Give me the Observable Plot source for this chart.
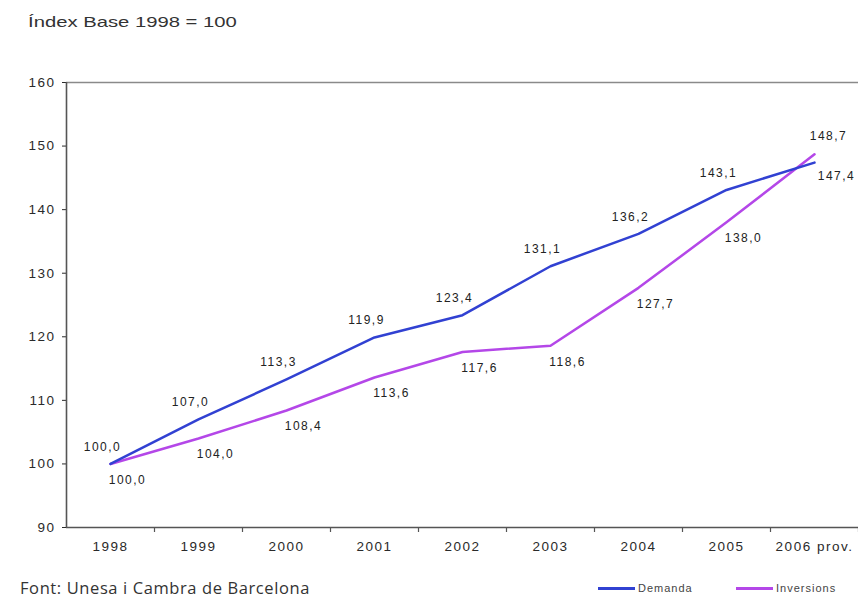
<!DOCTYPE html>
<html>
<head>
<meta charset="utf-8">
<script src="https://cdn.jsdelivr.net/npm/d3@7"></script>
<script src="https://cdn.jsdelivr.net/npm/@observablehq/plot@0.6"></script>
<style>
  body { margin: 0; background: #fff; }
  #wrap { position: relative; width: 858px; height: 598px; overflow: hidden; background: #fff; }
  #chart { position: absolute; left: 0; top: 0; }
  #title { position: absolute; left: 28px; top: 13px; font: 15px "Liberation Sans", Arial, sans-serif; color: #333; white-space: nowrap; transform: scaleX(1.35); transform-origin: 0 0; }
  #caption { position: absolute; left: 20px; top: 576px; font: 16.5px "Open Sans", sans-serif; letter-spacing: 0.6px; color: #333; white-space: nowrap; }
  .legitem { position: absolute; top: 582px; font: 11px "Liberation Sans", Arial, sans-serif; color: #444; white-space: nowrap; letter-spacing: 1px; display: flex; align-items: center; }
  .legitem span.sw { display: inline-block; width: 37px; height: 3px; margin-right: 3px; }
</style>
</head>
<body>
<div id="wrap">
  <div id="chart"></div>
  <div id="title">Índex Base 1998 = 100</div>
  <div id="legend"></div>
  <div id="caption">Font: Unesa i Cambra de Barcelona</div>
</div>
<script>
// ---- data ----
const years = ["1998", "1999", "2000", "2001", "2002", "2003", "2004", "2005", "2006 prov."];
const demanda = [100.0, 107.0, 113.3, 119.9, 123.4, 131.1, 136.2, 143.1, 147.4];
const inversions = [100.0, 104.0, 108.4, 113.6, 117.6, 118.6, 127.7, 138.0, 148.7];
const yTicks = [90, 100, 110, 120, 130, 140, 150, 160];
const seriesNames = ["Demanda", "Inversions"];
const seriesColors = ["#3141d2", "#b447e8"];

const fmt = v => d3.format(".1f")(v).replace(".", ",");
const D = years.map((year, i) => ({year, value: demanda[i], i}));
const I = years.map((year, i) => ({year, value: inversions[i], i}));
const last = years.length - 1;

const chart = Plot.plot({
  width: 858,
  height: 598,
  marginLeft: 66,
  marginRight: 0,
  marginTop: 82,
  marginBottom: 71,
  style: {fontFamily: "'Liberation Sans', Arial, sans-serif", fontSize: "13.5px", color: "#2a2a2a", background: "transparent", letterSpacing: "1.5px"},
  x: {type: "point", domain: years, padding: 0.5, tickSize: 0, tickPadding: 14, label: null},
  y: {domain: [yTicks[0], yTicks[yTicks.length - 1]], ticks: yTicks, tickSize: 4, tickPadding: 7, label: null},
  marks: [
    Plot.ruleY([yTicks[yTicks.length - 1]], {stroke: "#8a8a8a", strokeWidth: 1.6}),
    Plot.ruleY([yTicks[0]], {stroke: "#555", strokeWidth: 1.6}),
    Plot.ruleX([years[0]], {dx: -44, y1: yTicks[0], y2: yTicks[yTicks.length - 1], stroke: "#555", strokeWidth: 1.6}),
    Plot.ruleX(years, {dx: 44, y1: yTicks[0], y2: yTicks[0], insetBottom: -5, stroke: "#555", strokeWidth: 1.2}),
    Plot.lineY(I, {x: "year", y: "value", stroke: seriesColors[1], strokeWidth: 2.5}),
    Plot.lineY(D, {x: "year", y: "value", stroke: seriesColors[0], strokeWidth: 2.5}),
    Plot.text(D.filter(d => d.i < last), {x: "year", y: "value", text: d => fmt(d.value), dx: -8, dy: -17, fill: "#222", fontSize: 12}),
    Plot.text(D.filter(d => d.i === last), {x: "year", y: "value", text: d => fmt(d.value), dx: 22, dy: 14, fill: "#222", fontSize: 12}),
    Plot.text(I.filter(d => d.i < last), {x: "year", y: "value", text: d => fmt(d.value), dx: 17, dy: 16, fill: "#222", fontSize: 12}),
    Plot.text(I.filter(d => d.i === last), {x: "year", y: "value", text: d => fmt(d.value), dx: 14, dy: -18, fill: "#222", fontSize: 12})
  ]
});
document.getElementById("chart").appendChild(chart);

const legend = document.getElementById("legend");
const legendLeft = [598, 736];
seriesNames.forEach((name, k) => {
  const item = document.createElement("div");
  item.className = "legitem";
  item.style.left = legendLeft[k] + "px";
  const sw = document.createElement("span");
  sw.className = "sw";
  sw.style.background = seriesColors[k];
  item.appendChild(sw);
  item.appendChild(document.createTextNode(name));
  legend.appendChild(item);
});
</script>
</body>
</html>
